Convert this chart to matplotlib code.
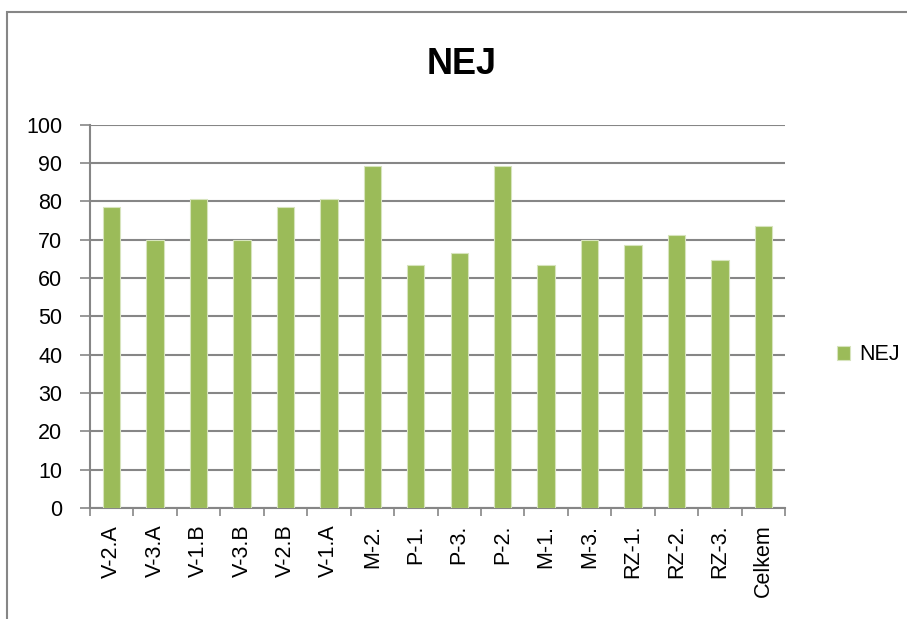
import matplotlib
matplotlib.use("Agg")
import matplotlib.pyplot as plt
from matplotlib.patches import Rectangle

categories = ["V-2.A", "V-3.A", "V-1.B", "V-3.B", "V-2.B", "V-1.A", "M-2.", "P-1.",
              "P-3.", "P-2.", "M-1.", "M-3.", "RZ-1.", "RZ-2.", "RZ-3.", "Celkem"]
values = [78.4, 70.0, 80.5, 70.0, 78.4, 80.5, 89.2, 63.3,
          66.6, 89.2, 63.3, 70.0, 68.6, 71.1, 64.6, 73.5]
series_name = "NEJ"
yticks = [0, 10, 20, 30, 40, 50, 60, 70, 80, 90, 100]

plt.rcParams['font.family'] = ['Liberation Sans', 'DejaVu Sans']
FS = 15.5

fig = plt.figure(figsize=(9.07, 6.19), dpi=100)
fig.patches.append(Rectangle((7/907, -0.1), 1.2, (619-12)/619 + 0.1, transform=fig.transFigure,
                             fill=False, edgecolor="#868686", linewidth=1.5))
ax = fig.add_axes([90/907, 1-508/619, (785-90)/907, (508-124.5)/619])

x = list(range(len(categories)))
ax.bar(x, values, width=0.4, color="#9BBB59", edgecolor="#D7E4BD", linewidth=0.8,
       label=series_name, zorder=3)
ax.set_xlim(-0.5, len(categories)-0.5)
ax.set_ylim(0, 100)
ax.set_yticks(yticks)
ax.set_yticklabels([str(t) for t in yticks], fontsize=FS)
ax.set_xticks(x)
ax.set_xticklabels(categories, rotation=90, fontsize=FS)
ax.tick_params(axis='x', length=0, pad=12)
ax.set_xticks([i - 0.5 for i in range(len(categories)+1)], minor=True)
ax.tick_params(axis='x', which='minor', length=6, color="#868686", width=1.2)
ax.tick_params(axis='y', length=7, color="#868686", width=1.2, pad=13)
ax.grid(axis='y', color="#868686", linewidth=1.5, zorder=0)
for s in ['top', 'right']:
    ax.spines[s].set_visible(False)
for s in ['left', 'bottom']:
    ax.spines[s].set_color("#868686")
    ax.spines[s].set_linewidth(1.5)

fig.text(462/907, 1-65/619, "NEJ", ha='center', va='center', fontsize=26, fontweight='bold')

ax.legend(loc='center left', bbox_to_anchor=(818/907, 1-355/619), bbox_transform=fig.transFigure,
          frameon=False, fontsize=FS, handlelength=0.6, handleheight=0.6, handletextpad=0.4)

fig.savefig("out.png", dpi=100)
